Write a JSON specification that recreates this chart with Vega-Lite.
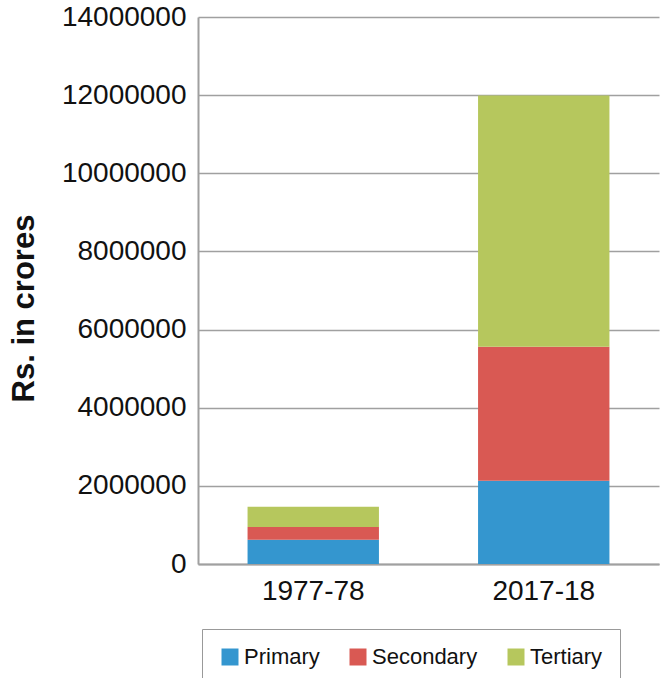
{
  "$schema": "https://vega.github.io/schema/vega-lite/v6.json",
  "autosize": {"type": "none"},
  "width": 461,
  "height": 547,
  "padding": {"left": 198, "top": 17, "right": 8, "bottom": 114},
  "background": "white",
  "data": {
    "values": [
      {"year": "1977-78", "sector": "Primary", "value": 620000},
      {"year": "1977-78", "sector": "Secondary", "value": 325000},
      {"year": "1977-78", "sector": "Tertiary", "value": 520000},
      {"year": "2017-18", "sector": "Primary", "value": 2130000},
      {"year": "2017-18", "sector": "Secondary", "value": 3430000},
      {"year": "2017-18", "sector": "Tertiary", "value": 6430000}
    ]
  },
  "config": {
    "font": "Liberation Sans",
    "view": {"stroke": null}
  },
  "mark": {"type": "bar"},
  "encoding": {
    "x": {
      "field": "year",
      "type": "nominal",
      "scale": {"paddingInner": 0.43, "paddingOuter": 0.215},
      "axis": {
        "title": null,
        "labelAngle": 0,
        "labelFontSize": 28,
        "labelColor": "#111",
        "labelPadding": 13,
        "ticks": false,
        "domainColor": "#a0a0a0",
        "domainWidth": 2,
        "grid": false
      }
    },
    "y": {
      "field": "value",
      "type": "quantitative",
      "stack": "zero",
      "scale": {"domain": [0, 14000000], "nice": false},
      "axis": {
        "title": "Rs. in crores",
        "titleFontSize": 31,
        "titleFontWeight": "bold",
        "titleColor": "#111",
        "titleX": -158,
        "titleY": 291,
        "titleAngle": -90,
        "titleAlign": "center",
        "titleBaseline": "bottom",
        "values": [0, 2000000, 4000000, 6000000, 8000000, 10000000, 12000000, 14000000],
        "format": "d",
        "labelFontSize": 28,
        "labelColor": "#111",
        "labelPadding": 12,
        "ticks": false,
        "domainColor": "#a0a0a0",
        "domainWidth": 2,
        "gridColor": "#a0a0a0",
        "gridWidth": 1.5
      }
    },
    "color": {
      "field": "sector",
      "type": "nominal",
      "scale": {
        "domain": ["Primary", "Secondary", "Tertiary"],
        "range": ["#3496CF", "#D95953", "#B6C75D"]
      },
      "legend": {
        "title": null,
        "orient": "none",
        "legendX": 4,
        "legendY": 612,
        "direction": "horizontal",
        "columns": 3,
        "gridAlign": "none",
        "strokeColor": "#999",
        "padding": 17,
        "symbolType": "square",
        "symbolSize": 289,
        "symbolStrokeWidth": 0,
        "symbolOpacity": 1,
        "labelFontSize": 22,
        "labelColor": "#111",
        "labelOffset": 3,
        "columnPadding": 27
      }
    },
    "order": {"field": "sector", "sort": "ascending"}
  }
}
